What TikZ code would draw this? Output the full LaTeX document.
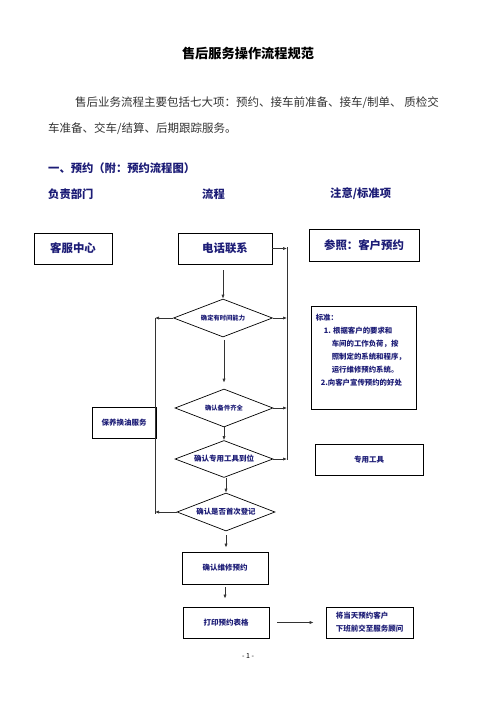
\documentclass[tikz,border=0pt]{standalone}
\usepackage{fontspec}
\usepackage{xcolor}
\setmainfont{Noto Sans CJK SC}
\usetikzlibrary{shapes.geometric,arrows.meta}

\definecolor{navy}{RGB}{28,28,118}

\tikzset{
    box/.style={draw, line width=0.8pt, inner sep=0pt, text=navy, font=\fontsize{7.5}{13}\selectfont\bfseries},
    bigbox/.style={box, font=\fontsize{11.4}{13}\selectfont\bfseries},
    ask/.style={diamond, aspect=2.6, draw, line width=0.7pt, inner sep=0pt, text=navy, font=\fontsize{6.3}{8}\selectfont\bfseries},
    head/.style={anchor=west, inner sep=0pt, text=navy, font=\fontsize{11.3}{13}\selectfont\bfseries},
    body/.style={anchor=west, inner sep=0pt, text=black!80, font=\fontsize{11.5}{13}\selectfont},
    flow/.style={line width=0.7pt, black!80},
}

\begin{document}
\begin{tikzpicture}[x=1pt, y=-1pt, >={Latex[length=4pt,width=3.2pt]}]
            \useasboundingbox (0,0) rectangle (496,702);

            \node[inner sep=0pt, font=\fontsize{13.2}{15}\selectfont\bfseries] (title) at (248,53) {售后服务操作流程规范};
            \node[body] (intro1) at (75,103) {售后业务流程主要包括七大项：预约、接车前准备、接车/制单、 质检交};
            \node[body] (intro2) at (48,129) {车准备、交车/结算、后期跟踪服务。};

            \node[head] (sec) at (48,168) {一、预约（附：预约流程图）};
            \node[head] (colA) at (48,194) {负责部门};
            \node[head] (colB) at (202,194) {流程};
            \node[head] (colC) at (330,194) {注意/标准项};

            \node[bigbox, minimum width=78, minimum height=31] (dept) at (73,248.5) {客服中心};
            \node[bigbox, minimum width=94, minimum height=31] (call) at (225,248.5) {电话联系};
            \node[bigbox, minimum width=110, minimum height=32] (ref) at (364,245) {参照：客户预约};

            \node[ask, minimum width=99, minimum height=38] (time) at (223,318) {确定有时间能力};
            \node[ask, minimum width=98, minimum height=38] (parts) at (224,408) {确认备件齐全};
            \node[ask, minimum width=98, minimum height=37, font=\fontsize{7.5}{8}\selectfont\bfseries] (tool) at (224,459) {确认专用工具到位};
            \node[ask, minimum width=98, minimum height=38, font=\fontsize{7.4}{8}\selectfont\bfseries] (first) at (226,512) {确认是否首次登记};

            \node[box, minimum width=105, minimum height=103,
                label={[anchor=north west, inner sep=0pt, align=left, text=navy,
                    font=\fontsize{7.4}{13}\selectfont\bfseries, xshift=5pt, yshift=-8pt]north west:
                    标准：\\
                    \hspace{8pt}1. 根据客户的要求和\\
                    \hspace{16pt}车间的工作负荷，按\\
                    \hspace{16pt}照制定的系统和程序，\\
                    \hspace{16pt}运行维修预约系统。\\
                    \hspace{5pt}2.向客户宣传预约的好处}] (std) at (363.5,357.5) {};
            \node[box, minimum width=108, minimum height=31] (kit) at (369,459.5) {专用工具};
            \node[box, minimum width=64, minimum height=31] (oil) at (124,422.5) {保养换油服务};

            \node[box, minimum width=86, minimum height=32] (book) at (225,568) {确认维修预约};
            \node[box, minimum width=86, minimum height=31] (print) at (226,622.5) {打印预约表格};
            \node[box, minimum width=87, minimum height=31, align=left] (hand) at (369.5,622.5) {将当天预约客户\\下班前交至服务顾问};

            \node[inner sep=0pt, font=\fontsize{7}{8}\selectfont] (page) at (248,656) {- 1 -};

            % side lines
            \coordinate (rtop) at (287,247);
            \coordinate (rbot) at (287,460);
            \coordinate (ltop) at (155,318);
            \coordinate (lbot) at (155,514);
            \draw[flow] (rtop) -- (rbot);
            \draw[flow] (ltop) -- (lbot);

            \draw[flow, ->] (call.east) -- (call.east -| rtop);
            \draw[flow, ->] (time.east) -- (time.east -| rtop);
            \draw[flow, ->] (parts.east) -- (parts.east -| rtop);
            \draw[flow, ->] (tool.east) -- (tool.east -| rtop);
            \draw[flow, ->] (time.west) -- (time.west -| ltop);
            \draw[flow, ->] (first.west) -- (first.west -| ltop);

            % main flow
            \draw[flow, ->, shorten <=6pt] (time.north |- call.south) -- (time.north);
            \draw[flow, ->, shorten <=3pt, shorten >=6pt] (time.south -| parts.north) -- (parts.north);
            \draw[flow, ->] (parts.south) -- (tool.north);
            \draw[flow, ->] (tool.south -| first.north) -- (first.north);
            \draw[flow, ->, shorten <=4pt, shorten >=4pt] (first.south) -- (first.south |- book.north);
            \draw[flow, ->, shorten <=3pt, shorten >=8pt] (book.south) -- (book.south |- print.north);
            \draw[flow, ->, shorten <=8pt, shorten >=12pt] (print.east) -- (hand.west);
        \end{tikzpicture}
\end{document}
